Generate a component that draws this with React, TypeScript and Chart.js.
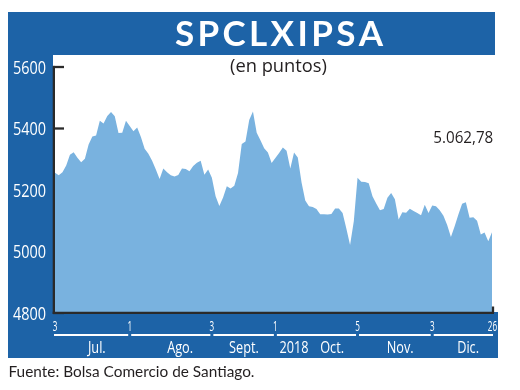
import { useEffect, useRef } from 'react';
import { Chart, registerables } from 'chart.js';

Chart.register(...registerables);

const TITLE = 'SPCLXIPSA';
const SUBTITLE = '(en puntos)';
const LAST_LABEL = '5.062,78';
const SOURCE = 'Fuente: Bolsa Comercio de Santiago.';

// daily closing values, 3 Jul 2018 -> 26 Dec 2018 (trading days)
const values = [
  5256, 5248, 5258, 5280, 5315, 5323, 5305, 5290, 5302, 5348,
  5374, 5377, 5425, 5416, 5441, 5454, 5440, 5385, 5386, 5425,
  5408, 5391, 5403, 5372, 5334, 5318, 5295, 5267, 5236, 5270,
  5258, 5248, 5244, 5249, 5270, 5268, 5261, 5278, 5289, 5295,
  5250, 5267, 5240, 5180, 5148, 5176, 5212, 5205, 5214, 5255,
  5350, 5358, 5428, 5455, 5386, 5362, 5336, 5322, 5288, 5304,
  5320, 5338, 5328, 5270, 5322, 5306, 5225, 5166, 5147, 5145,
  5138, 5121, 5121, 5120, 5122, 5140, 5140, 5125, 5075, 5021,
  5098, 5240, 5227, 5226, 5222, 5180, 5156, 5134, 5138, 5175,
  5190, 5170, 5104, 5128, 5126, 5139, 5132, 5125, 5118, 5152,
  5125, 5150, 5147, 5134, 5116, 5086, 5047, 5082, 5120, 5155,
  5160, 5110, 5111, 5100, 5055, 5062, 5033, 5062.78,
];
const categories = values.map((_, i) => String(i));

const yTickValues = [4800, 5000, 5200, 5400, 5600];
const dayTickIndex = [0, 20, 42, 59, 81, 101, 117];
const dayTickLabels = ['3', '1', '3', '1', '5', '3', '26'];
const monthNames = ['Jul.', 'Ago.', 'Sept.', 'Oct.', 'Nov.', 'Dic.'];
const monthStart = [0, 20, 42, 59, 81, 101];
const monthEnd = [20, 42, 59, 81, 101, 117];
const monthLabelPos = [11.2, 33.5, 50.6, 74.2, 92.4, 110.6];
const yearLabel = '2018';
const yearLabelPos = 64;

const BLUE = '#1d63a7';
const FILL = '#79b2df';
const DARK = '#2a2a2a';
const TEXT = '#231f20';

function txt(
  ctx: CanvasRenderingContext2D,
  s: string,
  x: number,
  y: number,
  font: string,
  color: string,
  align: 'left' | 'center' | 'right',
  sx: number,
  targetW?: number
) {
  ctx.save();
  ctx.font = font;
  ctx.fillStyle = color;
  ctx.textBaseline = 'alphabetic';
  ctx.textAlign = 'left';
  const w = ctx.measureText(s).width;
  const k = targetW ? targetW / w : sx;
  const dw = w * k;
  const left = align === 'left' ? x : align === 'center' ? x - dw / 2 : x - dw;
  ctx.translate(left, y);
  ctx.scale(k, 1);
  ctx.fillText(s, 0, 0);
  ctx.restore();
}

const framePlugin = {
  id: 'frame',
  beforeDraw(chart: any) {
    const ctx: CanvasRenderingContext2D = chart.ctx;
    ctx.save();
    ctx.fillStyle = '#ffffff';
    ctx.fillRect(0, 0, chart.width, chart.height);
    ctx.fillStyle = BLUE;
    ctx.fillRect(8, 12, 487, 43);
    ctx.fillRect(8, 55, 45, 303);
    ctx.fillRect(8, 312, 490, 46);

    // title with letter spacing
    ctx.font = 'bold 35px Lato';
    ctx.fillStyle = '#ffffff';
    ctx.textBaseline = 'alphabetic';
    ctx.textAlign = 'left';
    const chars = [...TITLE];
    const widths = chars.map((c) => ctx.measureText(c).width);
    const total = widths.reduce((a, b) => a + b, 0);
    const gap = (208 - total) / (chars.length - 1);
    let x = 175;
    chars.forEach((c, i) => {
      ctx.fillText(c, x, 46);
      x += widths[i] + gap;
    });
    ctx.restore();

    txt(ctx, SUBTITLE, 278.5, 72, '18px "Open Sans"', TEXT, 'center', 1, 97);
  },
  beforeDatasetsDraw(chart: any) {
    const ctx: CanvasRenderingContext2D = chart.ctx;
    const ys = chart.scales.y;
    ctx.save();
    ctx.strokeStyle = DARK;
    ctx.lineWidth = 2.3;
    yTickValues.forEach((v) => {
      const y = ys.getPixelForValue(v);
      ctx.beginPath();
      ctx.moveTo(53, y);
      ctx.lineTo(64, y);
      ctx.stroke();
    });
    ctx.restore();
  },
  afterDatasetsDraw(chart: any) {
    const ctx: CanvasRenderingContext2D = chart.ctx;
    const xs = chart.scales.x;
    const ys = chart.scales.y;
    const area = chart.chartArea;
    ctx.save();
    ctx.strokeStyle = DARK;
    ctx.lineWidth = 2.3;
    ctx.beginPath();
    ctx.moveTo(53.85, ys.getPixelForValue(5600) - 1.1);
    ctx.lineTo(53.85, area.bottom + 1);
    ctx.stroke();
    ctx.beginPath();
    ctx.moveTo(52.7, area.bottom - 0.15);
    ctx.lineTo(xs.getPixelForValue(117) + 2, area.bottom - 0.15);
    ctx.stroke();
    const xe = xs.getPixelForValue(117) + 1;
    ctx.beginPath();
    ctx.moveTo(xe, area.bottom - 6.5);
    ctx.lineTo(xe, area.bottom);
    ctx.stroke();

    // month underlines
    ctx.strokeStyle = '#ffffff';
    ctx.lineWidth = 2;
    monthStart.forEach((s, m) => {
      const x1 = m === 0 ? xs.getPixelForValue(s) - 1 : xs.getPixelForValue(s) + 1.5;
      const x2 = m === monthStart.length - 1 ? xs.getPixelForValue(monthEnd[m]) + 1 : xs.getPixelForValue(monthEnd[m]) - 1.5;
      ctx.beginPath();
      ctx.moveTo(x1, 335);
      ctx.lineTo(x2, 335);
      ctx.stroke();
    });
    ctx.restore();

    // y labels
    yTickValues.forEach((v) => {
      const y = ys.getPixelForValue(v);
      txt(ctx, String(v), 29.5, y + 6.7, '18px "Open Sans"', '#ffffff', 'center', 1, 33);
    });

    // day ticks
    dayTickIndex.forEach((idx, i) => {
      const x = xs.getPixelForValue(idx) + (idx === 117 ? 0.5 : 0);
      txt(ctx, dayTickLabels[i], x, 330.5, '14px "Open Sans"', '#ffffff', 'center', 0.58);
    });

    // month labels
    monthNames.forEach((name, i) => {
      txt(ctx, name, xs.getPixelForValue(monthLabelPos[i]), 352.7, '15.5px "Open Sans"', '#ffffff', 'center', 0.82);
    });
    txt(ctx, yearLabel, xs.getPixelForValue(yearLabelPos), 352.7, '15.5px "Open Sans"', '#ffffff', 'center', 0.82);

    // last value
    txt(ctx, LAST_LABEL, 493.3, 142.7, '16px "Open Sans"', TEXT, 'right', 1, 60);

    // source
    txt(ctx, SOURCE, 8.5, 376.7, '16px Lato', TEXT, 'left', 1, 246);
  },
};

export default function App() {
  const ref = useRef<HTMLCanvasElement | null>(null);
  useEffect(() => {
    if (!ref.current) return;
    const chart = new Chart(ref.current, {
      type: 'line',
      data: {
        labels: categories,
        datasets: [
          {
            data: values,
            fill: 'start',
            backgroundColor: FILL,
            borderWidth: 0,
            borderColor: FILL,
            pointRadius: 0,
            tension: 0,
          },
        ],
      },
      options: {
        responsive: false,
        animation: false,
        devicePixelRatio: 1,
        layout: { padding: { left: 55, right: 28, top: 67, bottom: 77 } },
        plugins: { legend: { display: false }, tooltip: { enabled: false }, title: { display: false } },
        scales: {
          x: { type: 'category', display: false, offset: false },
          y: { type: 'linear', display: false, min: 4800, max: 5600, ticks: { stepSize: 200 } },
        },
      },
      plugins: [framePlugin],
    });
    return () => chart.destroy();
  }, []);
  return (
    <div style={{ position: 'fixed', left: 0, top: 0, width: 520, height: 390, background: '#fff' }}>
      <canvas ref={ref} width={520} height={390} style={{ display: 'block', width: 520, height: 390 }} />
    </div>
  );
}
